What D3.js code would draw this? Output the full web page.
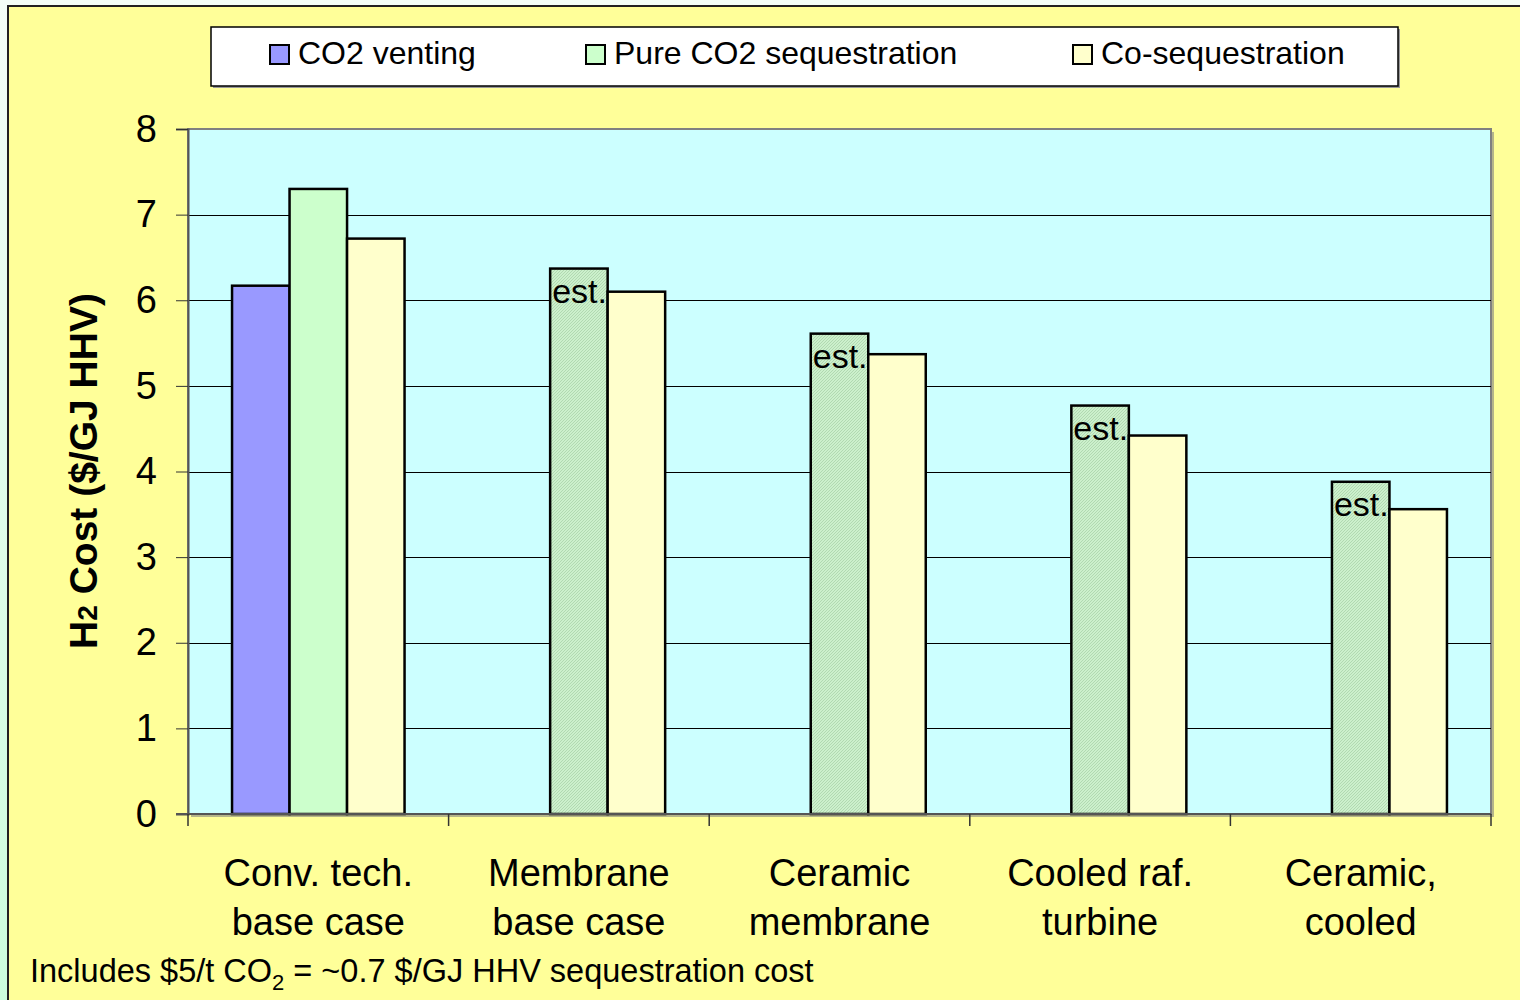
<!DOCTYPE html>
<html>
<head>
<meta charset="utf-8">
<script src="https://cdn.jsdelivr.net/npm/d3@7"></script>
<style>
  body { margin: 0; background: #fff; }
  svg { display: block; font-family: Arial, "Liberation Sans", sans-serif; }
</style>
</head>
<body>
<div id="chart"></div>
<script>
// chart values
const categories = [
  ["Conv. tech.", "base case"],
  ["Membrane", "base case"],
  ["Ceramic", "membrane"],
  ["Cooled raf.", "turbine"],
  ["Ceramic,", "cooled"]
];
const seriesNames = ["CO2 venting", "Pure CO2 sequestration", "Co-sequestration"];
const venting = [6.17, null, null, null, null];
const pureSeq = [7.30, 6.37, 5.61, 4.77, 3.88];
const coSeq = [6.72, 6.10, 5.37, 4.42, 3.56];
const estimated = [false, true, true, true, true];
const yTicks = [0, 1, 2, 3, 4, 5, 6, 7, 8];
const colors = ["#9999ff", "#ccffcc", "#ffffcc"];

const W = 1520, H = 1000;
const plot = {left: 188, right: 1491, top: 129, bottom: 814};

const svg = d3.select("#chart").append("svg")
  .attr("width", W).attr("height", H);

// background strip + yellow frame
const defs = svg.append("defs");
const grad = defs.append("linearGradient").attr("id", "strip")
  .attr("x1", 0).attr("y1", 0).attr("x2", 0).attr("y2", 1);
grad.append("stop").attr("offset", "0%").attr("stop-color", "#f4fff8");
grad.append("stop").attr("offset", "100%").attr("stop-color", "#ccffdd");
svg.append("rect").attr("x", 0).attr("y", 0).attr("width", W).attr("height", H)
  .attr("fill", "url(#strip)");
svg.append("rect").attr("x", 8).attr("y", 6).attr("width", W).attr("height", H)
  .attr("fill", "#ffff99").attr("stroke", "#222").attr("stroke-width", 2);

// hatch for estimated bars
const hatch = defs.append("pattern").attr("id", "hatch")
  .attr("patternUnits", "userSpaceOnUse").attr("width", 3).attr("height", 3);
hatch.append("rect").attr("width", 3).attr("height", 3).attr("fill", "#ccf0cc");
hatch.append("path").attr("d", "M-1,1 L1,-1 M0,3 L3,0 M2,4 L4,2")
  .attr("stroke", "#a9d3a9").attr("stroke-width", 0.8);

const x0 = d3.scaleBand()
  .domain(d3.range(categories.length))
  .range([plot.left, plot.right])
  .paddingInner(0).paddingOuter(0);

const x1 = d3.scaleBand()
  .domain(d3.range(seriesNames.length))
  .range([0, x0.bandwidth()])
  .paddingInner(0).paddingOuter(0.766);

const y = d3.scaleLinear().domain([0, 8]).range([plot.bottom, plot.top]);

// plot area
svg.append("rect")
  .attr("x", plot.left + 3).attr("y", plot.top + 3)
  .attr("width", plot.right - plot.left).attr("height", plot.bottom - plot.top)
  .attr("fill", "#b5b58a");
svg.append("rect")
  .attr("x", plot.left).attr("y", plot.top)
  .attr("width", plot.right - plot.left).attr("height", plot.bottom - plot.top)
  .attr("fill", "#ccffff").attr("stroke", "#808080").attr("stroke-width", 2);

// gridlines
svg.append("g").selectAll("line")
  .data(yTicks.filter(d => d > 0 && d < 8))
  .enter().append("line")
  .attr("x1", plot.left).attr("x2", plot.right)
  .attr("y1", d => Math.round(y(d)) + 0.5).attr("y2", d => Math.round(y(d)) + 0.5)
  .attr("stroke", "#000").attr("stroke-width", 1);

// y axis
const yAxis = d3.axisLeft(y).tickValues(yTicks).tickSize(12).tickPadding(19);
const gy = svg.append("g").attr("transform", `translate(${plot.left},0)`).call(yAxis);
gy.select(".domain").attr("stroke", "#555").attr("stroke-width", 2);
gy.selectAll(".tick line").attr("stroke", "#333");
gy.selectAll(".tick text").attr("font-size", 38).attr("fill", "#000")
  .attr("font-family", "Arial, 'Liberation Sans', sans-serif");

// bars
const series = [venting, pureSeq, coSeq];
const barData = [];
categories.forEach((c, i) => {
  series.forEach((s, j) => {
    if (s[i] != null) barData.push({cat: i, ser: j, value: s[i], est: j === 1 && estimated[i]});
  });
});

svg.append("g").selectAll("rect")
  .data(barData)
  .enter().append("rect")
  .attr("x", d => x0(d.cat) + x1(d.ser))
  .attr("y", d => y(d.value))
  .attr("width", x1.bandwidth())
  .attr("height", d => y(0) - y(d.value))
  .attr("fill", d => d.est ? "url(#hatch)" : colors[d.ser])
  .attr("stroke", "#000").attr("stroke-width", 2.5);

// est. labels
svg.append("g").selectAll("text")
  .data(barData.filter(d => d.est))
  .enter().append("text")
  .attr("x", d => x0(d.cat) + x1(d.ser) + 2)
  .attr("y", d => y(d.value) + 34)
  .attr("font-size", 34)
  .text("est.");

// x axis
svg.append("line")
  .attr("x1", plot.left - 12).attr("x2", plot.right)
  .attr("y1", plot.bottom).attr("y2", plot.bottom)
  .attr("stroke", "#555").attr("stroke-width", 2);
svg.append("g").selectAll("line")
  .data(d3.range(categories.length + 1))
  .enter().append("line")
  .attr("x1", d => plot.left + d * x0.step()).attr("x2", d => plot.left + d * x0.step())
  .attr("y1", plot.bottom).attr("y2", plot.bottom + 12)
  .attr("stroke", "#333").attr("stroke-width", 1.5);

const xl = svg.append("g").selectAll("text")
  .data(categories)
  .enter().append("text")
  .attr("text-anchor", "middle")
  .attr("font-size", 38)
  .attr("x", (d, i) => x0(i) + x0.bandwidth() / 2);
xl.append("tspan").attr("x", (d, i) => x0(i) + x0.bandwidth() / 2).attr("y", 886).text(d => d[0]);
xl.append("tspan").attr("x", (d, i) => x0(i) + x0.bandwidth() / 2).attr("y", 935).text(d => d[1]);

// y title
const yt = svg.append("text")
  .attr("transform", "translate(97,471) rotate(-90)")
  .attr("text-anchor", "middle")
  .attr("font-size", 39).attr("font-weight", "bold");
yt.append("tspan").text("H");
yt.append("tspan").attr("font-size", 28).text("2");
yt.append("tspan").text(" Cost ($/GJ HHV)");

// legend
svg.append("rect").attr("x", 213).attr("y", 29).attr("width", 1187).attr("height", 59)
  .attr("fill", "#999");
svg.append("rect").attr("x", 211).attr("y", 27).attr("width", 1187).attr("height", 59)
  .attr("fill", "#fff").attr("stroke", "#000").attr("stroke-width", 1.5);
const legendX = [270, 586, 1073];
const lg = svg.append("g").selectAll("g")
  .data(seriesNames)
  .enter().append("g")
  .attr("transform", (d, i) => `translate(${legendX[i]},0)`);
lg.append("rect").attr("x", 0).attr("y", 45).attr("width", 19).attr("height", 19)
  .attr("fill", (d, i) => colors[i]).attr("stroke", "#000").attr("stroke-width", 2);
lg.append("text").attr("x", 28).attr("y", 64).attr("font-size", 32).text(d => d);

// footnote
const fn = svg.append("text").attr("x", 30).attr("y", 982).attr("font-size", 32.5);
fn.append("tspan").text("Includes $5/t CO");
fn.append("tspan").attr("font-size", 22).attr("dy", 8).text("2");
fn.append("tspan").attr("dy", -8).text(" = ~0.7 $/GJ HHV sequestration cost");
</script>
</body>
</html>
